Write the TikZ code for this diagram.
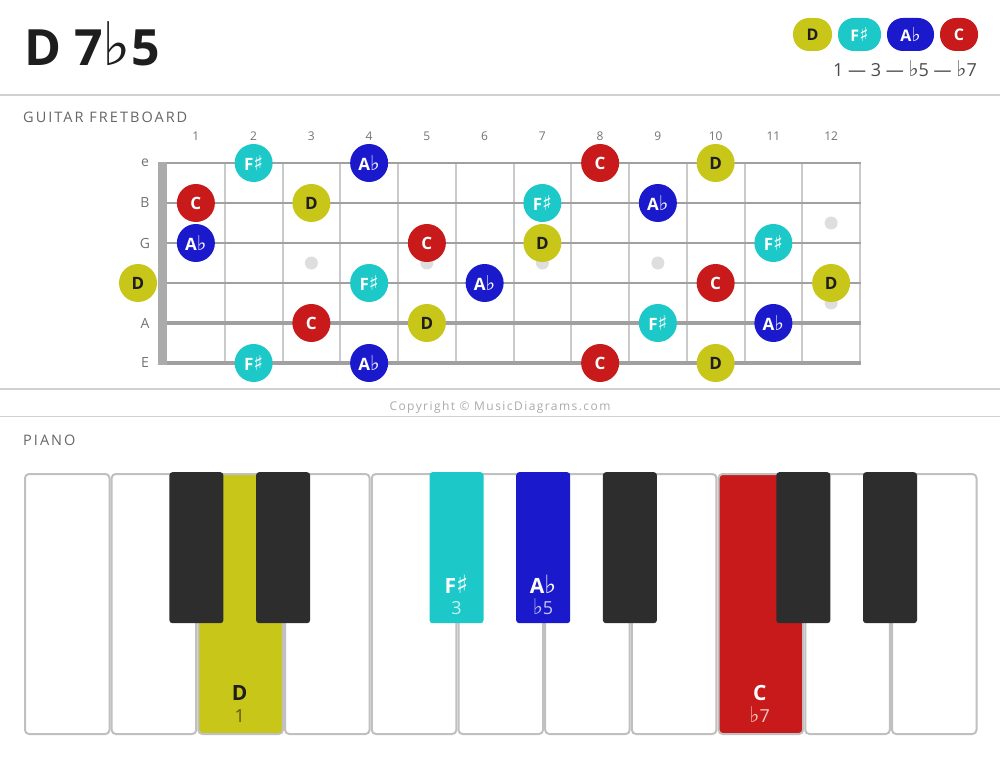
\documentclass[tikz,border=0pt]{standalone}
\usepackage{fontspec}
\setmainfont{Open Sans}
\newfontfamily\symf{DejaVu Sans}
\newcommand{\mysharp}{{\symf\mdseries\scalebox{1.2}{\char"266F}}}
\newcommand{\myflat}{{\symf\mdseries\scalebox{1.2}{\char"266D}}}
\newcommand{\myflatT}{{\symf\mdseries\scalebox{1.2}{\char"266D}}}
\definecolor{yel}{HTML}{C9C61A}
\definecolor{cyn}{HTML}{1CC8C8}
\definecolor{blu}{HTML}{1A1ACC}
\definecolor{red1}{HTML}{C81A1A}
\definecolor{ink}{HTML}{1E1E1E}
\definecolor{rule}{HTML}{D0D0D0}
\definecolor{strg}{HTML}{A0A0A0}
\definecolor{fretc}{HTML}{CACACA}
\definecolor{blk}{HTML}{2D2D2D}
\definecolor{keyb}{HTML}{C0C0C0}
\begin{document}
\begin{tikzpicture}[x=1pt,y=-1pt,
  note/.style={circle, minimum size=38, inner sep=0, font=\fontsize{17}{17}\selectfont\bfseries},
  nD/.style={note, fill=yel, text=ink},
  nF/.style={note, fill=cyn, text=white},
  nA/.style={note, fill=blu, text=white},
  nC/.style={note, fill=red1, text=white},
  pill/.style={rectangle, rounded corners=16, minimum height=33, inner sep=0, font=\fontsize{16}{16}\selectfont\bfseries},
  lbl/.style={inner sep=0, text=gray!90!black, font=\fontsize{13}{13}\selectfont},
  head/.style={inner sep=0, anchor=base west, text=black!60, font=\fontsize{14.5}{14.5}\selectfont\addfontfeatures{LetterSpace=14}},
  wkey/.style={rectangle, draw=keyb, line width=2, rounded corners=4, minimum width=84.5, minimum height=260, inner sep=0, anchor=north west},
  bkey/.style={rectangle, rounded corners=3, minimum width=54, minimum height=151, inner sep=0, anchor=north},
  keytxt/.style={inner sep=0, anchor=base, font=\fontsize{21}{21}\selectfont\bfseries},
  keysub/.style={inner sep=0, anchor=base, font=\fontsize{18}{18}\selectfont}
]
\useasboundingbox (0,0) rectangle (1000,759);
\fill[white] (0,0) rectangle (1000,759);

% title
\node[anchor=base west, inner sep=0, text=ink, font=\fontsize{50}{50}\selectfont\bfseries] (title) at (24,66) {D 7\myflatT5};

% legend
\node[pill, fill=yel, text=ink, minimum width=39] (lgD) at (812.5,34.5) {D};
\node[pill, fill=cyn, text=white, minimum width=43] (lgF) at (859.5,34.5) {F\mysharp};
\node[pill, fill=blu, text=white, minimum width=47] (lgA) at (910.5,34.5) {A\myflat};
\node[pill, fill=red1, text=white, minimum width=38] (lgC) at (959,34.5) {C};
\node[anchor=base east, inner sep=0, text=black!70, font=\fontsize{18}{18}\selectfont] (ints) at (977,77) {1 — 3 — \myflat5 — \myflat7};

% rules
\draw[rule, line width=2] (0,95) -- (1000,95);
\draw[rule, line width=1.8] (0,389) -- (1000,389);
\draw[rule, line width=1.8] (0,416.5) -- (1000,416.5);

% headings
\node[head] (hg) at (23,123) {GUITAR FRETBOARD};
\node[head] (hp) at (23,445) {PIANO};
\node[inner sep=0, anchor=base, text=black!33, font=\fontsize{12}{12}\selectfont\addfontfeatures{LetterSpace=12}] (copy) at (500,410) {Copyright © MusicDiagrams.com};

% inlay dots
\foreach \f in {3,5,7,9}
  \fill[black!13] ({167+57.75*(\f-0.5)},263) circle (6.5);
\fill[black!13] ({167+57.75*11.5},223) circle (6.5);
\fill[black!13] ({167+57.75*11.5},303) circle (6.5);

% fret lines
\foreach \f in {1,...,12}
  \draw[fretc, line width=2] ({167+57.75*\f},163) -- ({167+57.75*\f},363);

% fret numbers
\foreach \f in {1,...,12}
  \node[lbl, font=\fontsize{12}{12}\selectfont] (fn\f) at ({167+57.75*(\f-0.5)},136) {\f};

% strings
\foreach \s/\w in {1/2,2/2.2,3/2.5,4/2.8,5/3.1,6/3.5}
  \draw[strg, line width=\w] (158,{163+40*(\s-1)}) -- (861,{163+40*(\s-1)});

% nut
\fill[black!33] (158,162) rectangle (167,365);

% string labels
\foreach \s/\n in {1/e,2/B,3/G,5/A,6/E}
  \node[lbl, font=\fontsize{14}{14}\selectfont] (sl\s) at (145,{163+40*(\s-1)}) {\n};

% notes
\foreach \s/\f/\st/\l in {
  1/2/nF/F\mysharp, 1/4/nA/A\myflat, 1/8/nC/C, 1/10/nD/D,
  2/1/nC/C, 2/3/nD/D, 2/7/nF/F\mysharp, 2/9/nA/A\myflat,
  3/1/nA/A\myflat, 3/5/nC/C, 3/7/nD/D, 3/11/nF/F\mysharp,
  4/0/nD/D, 4/4/nF/F\mysharp, 4/6/nA/A\myflat, 4/10/nC/C, 4/12/nD/D,
  5/3/nC/C, 5/5/nD/D, 5/9/nF/F\mysharp, 5/11/nA/A\myflat,
  6/2/nF/F\mysharp, 6/4/nA/A\myflat, 6/8/nC/C, 6/10/nD/D}
{
  \pgfmathsetmacro\xx{ifthenelse(\f==0,138,167+57.75*(\f-0.5))}
  \node[\st] (n\s-\f) at (\xx,{163+40*(\s-1)}) {\l};
}

% piano white keys
\foreach \i/\c in {0/white,1/white,2/yel,3/white,4/white,5/white,6/white,7/white,8/red1,9/white,10/white}
  \node[wkey, fill=\c] (w\i) at ({24+86.7*\i},473) {};

% piano black keys
\foreach \b/\c in {2/blk,3/blk,5/cyn,6/blu,7/blk,9/blk,10/blk}
  \node[bkey, fill=\c] (b\b) at ({23+86.7*\b},472) {};

% key labels
\node[keytxt, text=ink] (kD) at (239.7,700) {D};
\node[keysub, text=black!55!yel] (kD1) at (239.7,722) {1};
\node[keytxt, text=white] (kF) at (456.5,593) {F\mysharp};
\node[keysub, text=white!75!cyn] (kF3) at (456.5,614) {3};
\node[keytxt, text=white] (kA) at (543,593) {A\myflat};
\node[keysub, text=white!75!blu] (kA5) at (543,614) {\myflat5};
\node[keytxt, text=white] (kC) at (759.7,700) {C};
\node[keysub, text=white!75!red1] (kC7) at (759.7,722) {\myflat7};
\end{tikzpicture}
\end{document}
